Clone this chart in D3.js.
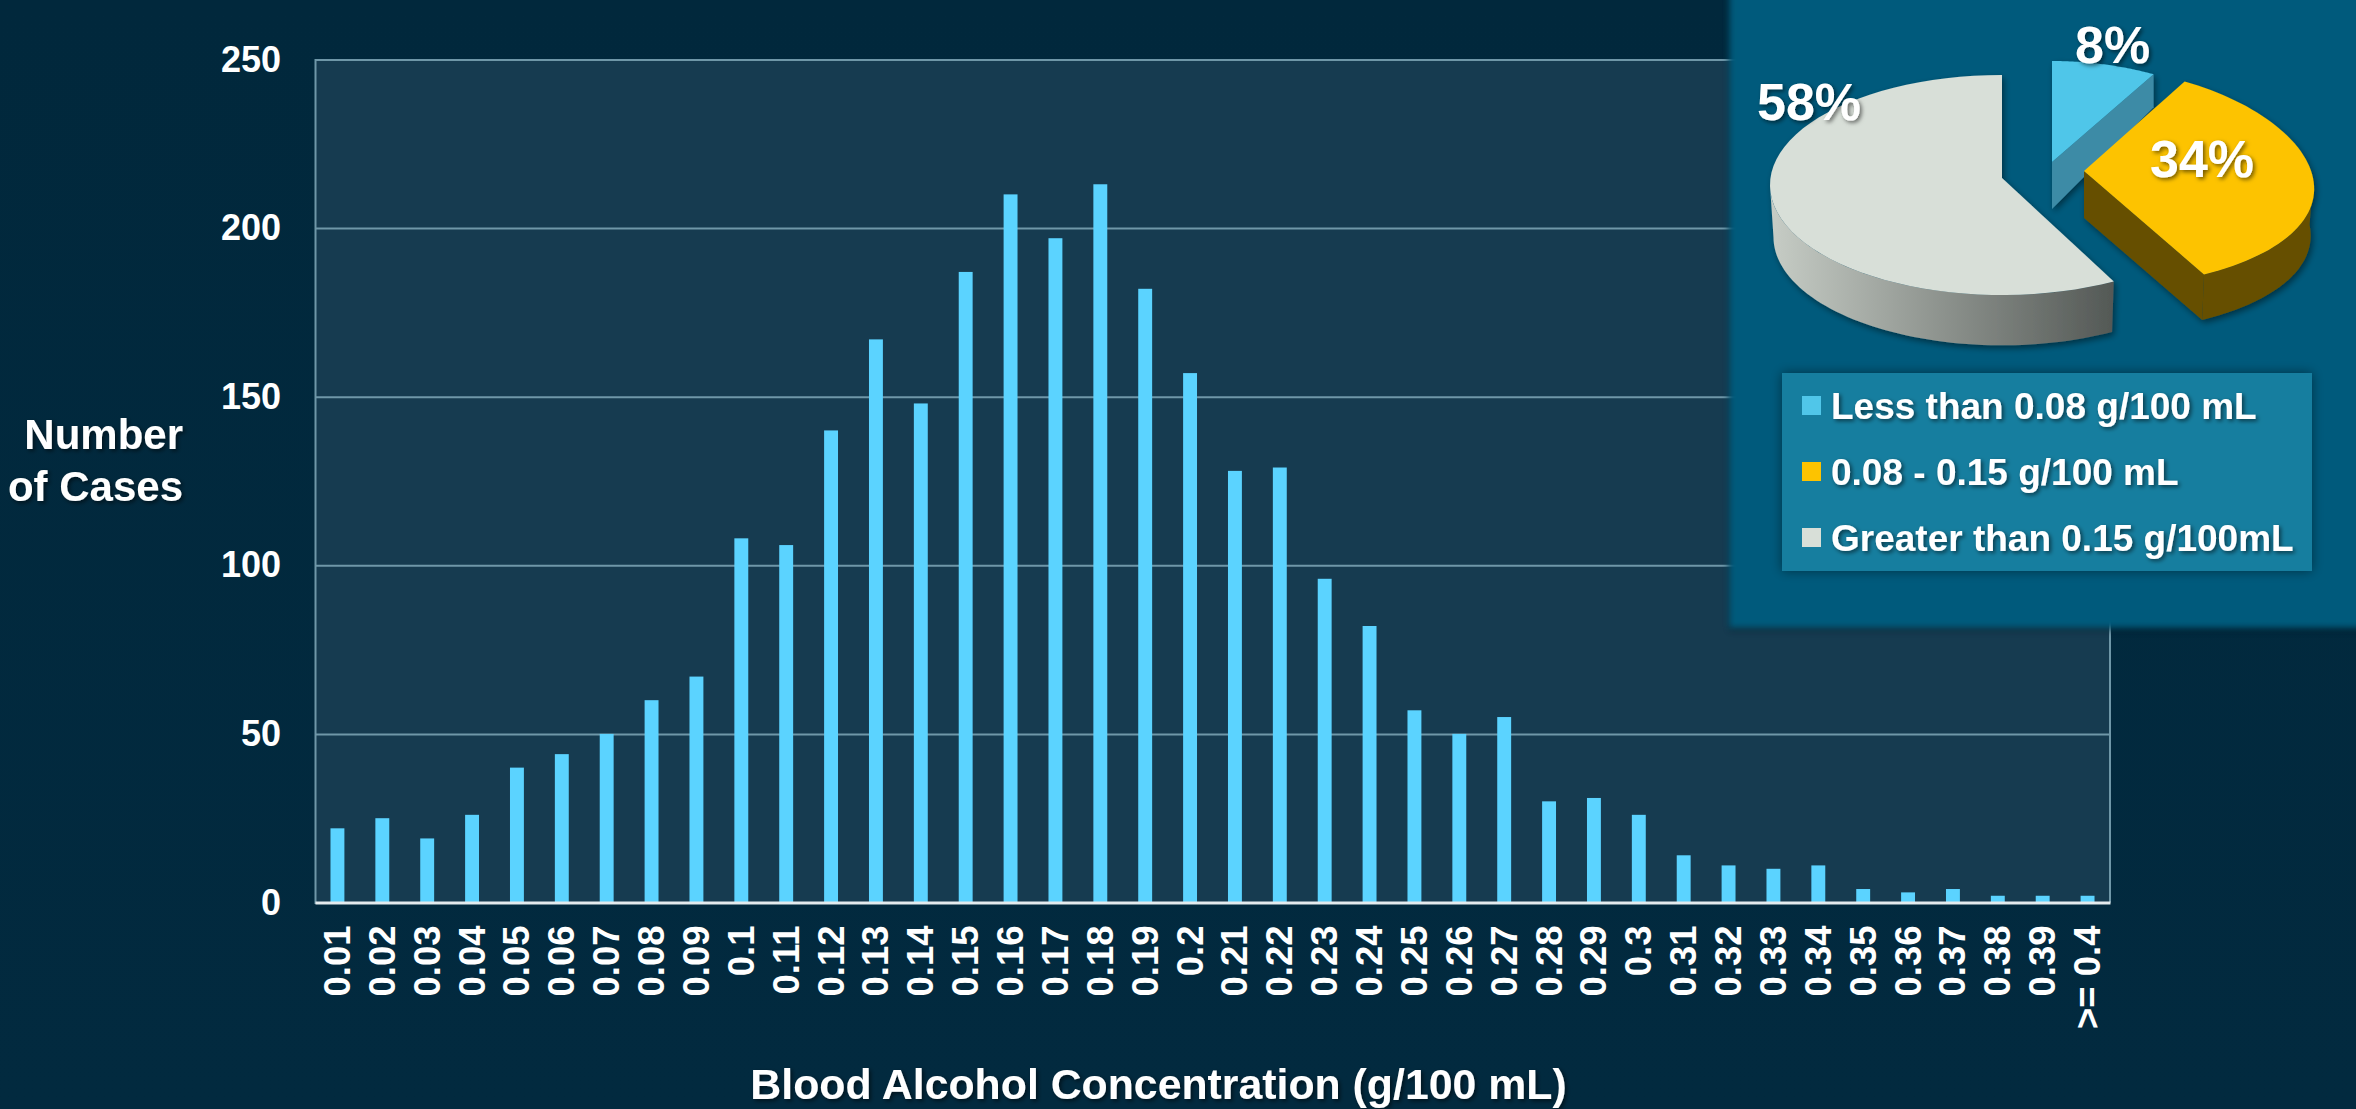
<!DOCTYPE html>
<html><head><meta charset="utf-8">
<script src="https://cdn.jsdelivr.net/npm/d3@7"></script>
<style>html,body{margin:0;padding:0;background:#012a3f;overflow:hidden}svg{display:block}text{font-family:"Liberation Sans",Arial,sans-serif;font-weight:700;fill:#fff}</style>
</head><body><svg id="c" width="2356" height="1109"></svg>
<script>
const categories=["0.01","0.02","0.03","0.04","0.05","0.06","0.07","0.08","0.09","0.1","0.11","0.12","0.13","0.14","0.15","0.16","0.17","0.18","0.19","0.2","0.21","0.22","0.23","0.24","0.25","0.26","0.27","0.28","0.29","0.3","0.31","0.32","0.33","0.34","0.35","0.36","0.37","0.38","0.39",">= 0.4"];
const cases=[22,25,19,26,40,44,50,60,67,108,106,140,167,148,187,210,197,213,182,157,128,129,96,82,57,50,55,30,31,26,14,11,10,11,4,3,4,2,2,2];
const yTicks=[0,50,100,150,200,250];
const shareLabels=["Less than 0.08 g/100 mL","0.08 - 0.15 g/100 mL","Greater than 0.15 g/100mL"];
const shareValues=[8,34,58];
const shareColors=["#50c6e9","#fdc300","#d8dfd8"];
const sideColors=["#3d8ba6","#665000","url(#graySide)"];
const xTitle="Blood Alcohol Concentration (g/100 mL)";
const yTitle=["Number","of Cases"];

const svg=d3.select("#c");
const defs=svg.append("defs");
const bgGrad=defs.append("linearGradient").attr("id","bg").attr("x1",0).attr("x2",0).attr("y1",0).attr("y2",1);
bgGrad.append("stop").attr("offset",0).attr("stop-color","#01283c");
bgGrad.append("stop").attr("offset",1).attr("stop-color","#022a3f");
const gs=defs.append("linearGradient").attr("id","graySide").attr("gradientUnits","userSpaceOnUse").attr("x1",1772).attr("x2",2115).attr("y1",0).attr("y2",0);
gs.append("stop").attr("offset",0).attr("stop-color","#c6ccc5");
gs.append("stop").attr("offset",1).attr("stop-color","#535855");
const mk=(id,dx,dy,sd,op)=>{const f=defs.append("filter").attr("id",id).attr("x","-20%").attr("y","-20%").attr("width","140%").attr("height","140%");
 f.append("feDropShadow").attr("dx",dx).attr("dy",dy).attr("stdDeviation",sd).attr("flood-color","#000").attr("flood-opacity",op);};
mk("ts",2,2,2,.55);mk("boxS",0,0,6,.45);mk("pieS",2,3,3,.45);
const pb=defs.append("filter").attr("id","panelBlur").attr("x","-5%").attr("y","-5%").attr("width","110%").attr("height","110%");
pb.append("feGaussianBlur").attr("stdDeviation",3);

svg.append("rect").attr("width",2356).attr("height",1109).attr("fill","url(#bg)");

const plot={l:315,r:2110,t:59.5,b:902.5};
const x=d3.scaleBand().domain(categories).range([plot.l,plot.r]).paddingInner(.69).paddingOuter(.345);
const y=d3.scaleLinear().domain([0,250]).range([plot.b,plot.t]);
svg.append("rect").attr("x",plot.l).attr("y",plot.t).attr("width",plot.r-plot.l).attr("height",plot.b-plot.t).attr("fill","#163b50");

// grid + y axis
const gy=svg.append("g").attr("transform",`translate(${plot.l},0)`).call(d3.axisLeft(y).tickValues(yTicks).tickSize(-(plot.r-plot.l)).tickPadding(34));
gy.select(".domain").attr("stroke","#6f97a8").attr("stroke-width",2);
gy.selectAll(".tick line").attr("stroke","#6f97a8").attr("stroke-width",2);
gy.selectAll(".tick text").attr("font-size",36).attr("font-family",null).style("fill","#fff");
svg.append("line").attr("x1",plot.r).attr("x2",plot.r).attr("y1",plot.t).attr("y2",plot.b).attr("stroke","#6f97a8").attr("stroke-width",2);

// bars
svg.append("g").selectAll("rect").data(cases).join("rect")
 .attr("x",(d,i)=>x(categories[i])).attr("width",x.bandwidth())
 .attr("y",d=>y(d)).attr("height",d=>y(0)-y(d)).attr("fill","#5bd3ff");

// x axis
const gx=svg.append("g").attr("transform",`translate(0,${plot.b})`).call(d3.axisBottom(x).tickSize(0));
gx.select(".domain").attr("stroke","#e4ebee").attr("stroke-width",3);
gx.selectAll(".tick text").attr("font-size",36.5).attr("text-anchor","end").attr("dominant-baseline","central")
 .attr("transform","translate(0,23) rotate(-90)").attr("x",0).attr("y",0).attr("dy",null).style("fill","#fff");

// titles
svg.append("text").attr("x",1158.5).attr("y",1099).attr("text-anchor","middle").attr("font-size",42.8).attr("filter","url(#ts)").text(xTitle);
svg.append("g").selectAll("text").data(yTitle).join("text").attr("x",183).attr("y",(d,i)=>449+i*52).attr("text-anchor","end").attr("font-size",42).attr("filter","url(#ts)").text(d=>d);

// inset panel
svg.append("rect").attr("x",1729).attr("y",-20).attr("width",660).attr("height",648).attr("fill","#000").attr("opacity",.3).attr("filter","url(#panelBlur)").attr("transform","translate(0,3)");
svg.append("rect").attr("x",1729).attr("y",-20).attr("width",660).attr("height",648).attr("fill","#005a7b").attr("filter","url(#panelBlur)");

// pie
const arcs=d3.pie().sort(null)(shareValues);
const sliceGeom=[
 {x:2052,y:168,rx:231,ry:107,lift:6,depth:47,farDepth:33,persp:.1},
 {x:2084,y:178,rx:229,ry:110,lift:7,depth:47,farDepth:50,persp:.1},
 {x:2002,y:185,rx:232,ry:110,lift:7,depth:52,farDepth:50,persp:0}
];
const line=d3.line();
const rim=(a,o,dy=0,k=1)=>[o.x+o.rx*k*(1-o.persp*Math.cos(a))*Math.sin(a),o.y-o.ry*k*Math.cos(a)+dy];
const sample=(a0,a1,n=60)=>d3.range(n+1).map(i=>a0+(a1-a0)*i/n);
const gPie=svg.append("g").attr("filter","url(#pieS)");
arcs.forEach((s,i)=>{
  const o=sliceGeom[i],a0=s.startAngle,a1=s.endAngle;
  const apex=[o.x,o.y-o.lift];
  const g=gPie.append("g");
  const v0=Math.max(a0,Math.PI/2),v1=Math.min(a1,Math.PI*1.5);
  if(v1>v0){
    const top=sample(v0,v1).map(a=>rim(a,o));
    const bot=sample(v1,v0).map(a=>rim(a,o,o.depth,.985));
    g.append("path").attr("d",line(top.concat(bot))+"Z").attr("fill",sideColors[i]);
  }
  if(i<2){
    const e=rim(a1,o);
    const far=i===1?rim(a1,o,o.depth,.985):[e[0],e[1]+o.farDepth];
    g.append("path").attr("d",line([apex,e,far,[apex[0],apex[1]+o.depth]])+"Z").attr("fill",sideColors[i]);
  }
  g.append("path").attr("d",line([apex].concat(sample(a0,a1).map(a=>rim(a,o))))+"Z").attr("fill",shareColors[i]);
});

// pie labels
const pieLabels=[{x:2075,y:63},{x:2150,y:177},{x:1757,y:120}];
svg.append("g").selectAll("text").data(shareValues).join("text")
 .attr("x",(d,i)=>pieLabels[i].x).attr("y",(d,i)=>pieLabels[i].y).attr("font-size",52).attr("filter","url(#ts)").text(d=>d+"%");

// legend
svg.append("rect").attr("x",1782).attr("y",373).attr("width",530).attr("height",198).attr("fill","#177e9f").attr("filter","url(#boxS)");
const lg=svg.append("g").selectAll("g").data(shareLabels).join("g").attr("transform",(d,i)=>`translate(1802,${396+i*66})`);
lg.append("rect").attr("width",19).attr("height",19).attr("fill",(d,i)=>shareColors[i]);
lg.append("text").attr("x",29).attr("y",23).attr("font-size",37).attr("filter","url(#ts)").text(d=>d);
</script></body></html>
